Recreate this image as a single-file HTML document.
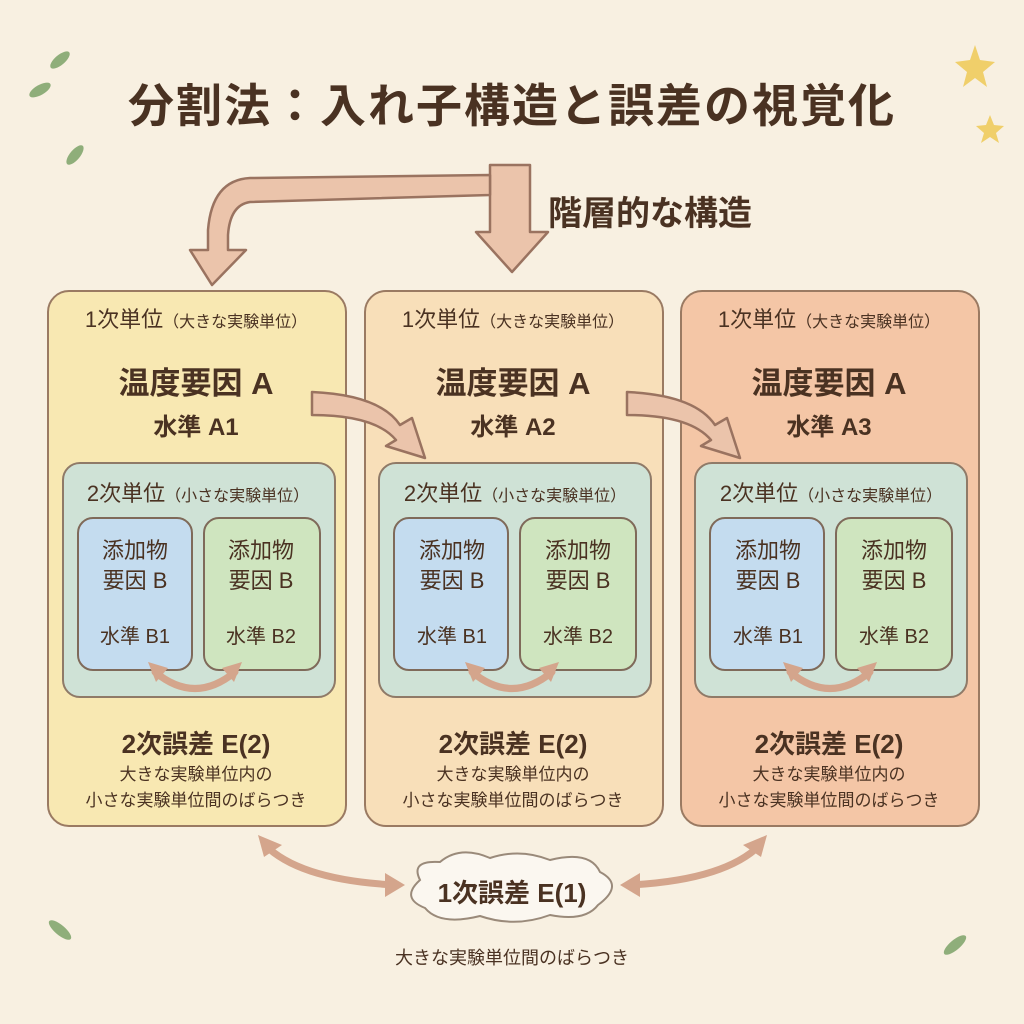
<!DOCTYPE html>
<html><head><meta charset="utf-8"><style>
body{margin:0;width:1024px;height:1024px;background:#f8f0e1;font-family:"Liberation Sans","Noto Sans CJK JP",sans-serif;color:#4a3222;position:relative;overflow:hidden}
.a{position:absolute;white-space:nowrap;text-align:center}
.p{position:absolute;border:2px solid #9a7a62;border-radius:22px}
.i{position:absolute;border:2px solid #8f7a68;border-radius:18px;background:#cfe2d6}
.s{position:absolute;border:2px solid #7f6a5a;border-radius:16px}
</style></head><body>
<svg width="1024" height="1024" style="position:absolute;left:0;top:0">
<g fill="#ebc4ab" stroke="#9a7360" stroke-width="2.5" stroke-linejoin="round">
<path d="M490 165 L530 165 L530 232 L548 232 L512 272 L476 232 L490 232 Z"/>
<path d="M490 195 L250 202 Q230 205 228 235 L228 250 L246 250 L212 285 L190 250 L208 250 L208 230 Q212 180 250 178 L490 175 Z"/>
</g>
<path d="M420 880 Q410 860 440 862 Q460 845 490 858 Q520 848 550 860 Q590 850 600 872 Q625 885 598 905 Q585 922 550 915 Q515 928 480 916 Q440 926 425 908 Q400 898 420 880Z" fill="#fbf7f0" stroke="#9a8a7a" stroke-width="2"/>
<g fill="none" stroke="#d4a58c" stroke-width="7" stroke-linecap="round">
<path d="M265 845 Q300 880 395 885"/><path d="M760 845 Q725 880 630 885"/>
</g>
<g fill="#d4a58c">
<path d="M258 835 L282 845 L264 857Z"/><path d="M405 885 L385 873 L385 897Z"/>
<path d="M767 835 L743 845 L761 857Z"/><path d="M620 885 L640 873 L640 897Z"/>
</g>
<g fill="#8fae7a"><ellipse cx="60" cy="60" rx="12" ry="5" transform="rotate(-40 60 60)"/><ellipse cx="40" cy="90" rx="12" ry="5" transform="rotate(-30 40 90)"/><ellipse cx="75" cy="155" rx="12" ry="5" transform="rotate(-50 75 155)"/><ellipse cx="955" cy="945" rx="14" ry="5" transform="rotate(-40 955 945)"/><ellipse cx="60" cy="930" rx="14" ry="5" transform="rotate(40 60 930)"/></g>
<g fill="#f0cf6a"><polygon points="975,45 980,60 995,62 983,72 987,87 975,78 963,87 967,72 955,62 970,60"/><polygon points="990,115 994,125 1004,126 996,133 999,143 990,137 981,143 984,133 976,126 986,125"/></g>
</svg>
<div class="a" style="left:0;width:1024px;top:70px;font-size:46px;font-weight:bold;letter-spacing:2px">分割法：入れ子構造と誤差の視覚化</div>
<div class="a" style="left:548px;top:186px;font-size:34px;font-weight:bold">階層的な構造</div>

<div class="p" style="left:47px;top:290px;width:296px;height:533px;background:#f8e8b2"></div>
<div class="p" style="left:364px;top:290px;width:296px;height:533px;background:#f8dfb9"></div>
<div class="p" style="left:680px;top:290px;width:296px;height:533px;background:#f4c6a6"></div>

<div class="i" style="left:62px;top:462px;width:270px;height:232px"></div>
<div class="i" style="left:378px;top:462px;width:270px;height:232px"></div>
<div class="i" style="left:694px;top:462px;width:270px;height:232px"></div>

<div class="s" style="left:77px;top:517px;width:112px;height:150px;background:#c4dcef"></div>
<div class="s" style="left:203px;top:517px;width:114px;height:150px;background:#cfe5bf"></div>
<div class="s" style="left:393px;top:517px;width:112px;height:150px;background:#c4dcef"></div>
<div class="s" style="left:519px;top:517px;width:114px;height:150px;background:#cfe5bf"></div>
<div class="s" style="left:709px;top:517px;width:112px;height:150px;background:#c4dcef"></div>
<div class="s" style="left:835px;top:517px;width:114px;height:150px;background:#cfe5bf"></div>

<svg width="1024" height="1024" style="position:absolute;left:0;top:0">
<g fill="#ebc4ab" stroke="#9a7360" stroke-width="2.5" stroke-linejoin="round">
<path d="M312 392 Q380 395 400 425 L412 418 L425 458 L386 446 L396 440 Q375 415 312 415 Z"/>
<path d="M627 392 Q695 395 715 425 L727 418 L740 458 L701 446 L711 440 Q690 415 627 415 Z"/>
</g>
<g fill="none" stroke="#d4a58c" stroke-width="7" stroke-linecap="round">
<path d="M155 672 Q195 705 235 672"/><path d="M472 672 Q512 705 552 672"/><path d="M790 672 Q830 705 870 672"/>
</g>
<g fill="#d4a58c">
<path d="M148 662 L168 668 L156 682Z"/><path d="M242 662 L222 668 L234 682Z"/>
<path d="M465 662 L485 668 L473 682Z"/><path d="M559 662 L539 668 L551 682Z"/>
<path d="M783 662 L803 668 L791 682Z"/><path d="M877 662 L857 668 L869 682Z"/>
</g>
</svg>

<div id="c"></div>
<script>
var xs=[47,364,680],h='';
xs.forEach(function(x,k){
h+='<div class="a" style="left:'+x+'px;width:298px;top:302px;font-size:22px">1次単位<span style="font-size:16px">（大きな実験単位）</span></div>';
h+='<div class="a" style="left:'+x+'px;width:298px;top:358px;font-size:31px;font-weight:bold">温度要因 A</div>';
h+='<div class="a" style="left:'+x+'px;width:298px;top:407px;font-size:24px;font-weight:bold">水準 A'+(k+1)+'</div>';
h+='<div class="a" style="left:'+(x+15)+'px;width:272px;top:476px;font-size:22px">2次単位<span style="font-size:16px">（小さな実験単位）</span></div>';
[[x+30,'B1'],[x+156,'B2']].forEach(function(b){
h+='<div class="a" style="left:'+b[0]+'px;width:116px;top:536px;font-size:22px;line-height:30px">添加物<br>要因 B</div>';
h+='<div class="a" style="left:'+b[0]+'px;width:116px;top:620px;font-size:20px">水準 '+b[1]+'</div>';
});
h+='<div class="a" style="left:'+x+'px;width:298px;top:724px;font-size:26px;font-weight:bold">2次誤差 E(2)</div>';
h+='<div class="a" style="left:'+x+'px;width:298px;top:762px;font-size:17px;line-height:26px">大きな実験単位内の<br>小さな実験単位間のばらつき</div>';
});
document.getElementById('c').innerHTML=h;
</script>
<div class="a" style="left:412px;width:200px;top:873px;font-size:26px;font-weight:bold">1次誤差 E(1)</div>
<div class="a" style="left:0;width:1024px;top:944px;font-size:18px">大きな実験単位間のばらつき</div>
</body></html>
